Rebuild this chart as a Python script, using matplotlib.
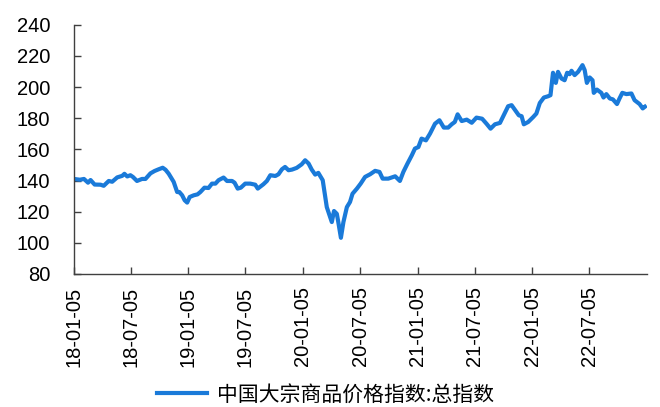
"""
China commodity price index chart
Weekly total index, 2018-2022
"""

import matplotlib
matplotlib.use('Agg')
import matplotlib.pyplot as plt
import matplotlib.dates as mdates
import pandas as pd

# Values
dates = [
    '2018-01-05', '2018-01-24', '2018-02-06', '2018-02-19', '2018-02-27', '2018-03-12',
    '2018-03-31', '2018-04-10', '2018-04-26', '2018-05-07', '2018-05-23', '2018-06-08',
    '2018-06-15', '2018-06-24', '2018-07-04', '2018-07-12', '2018-07-25', '2018-08-10',
    '2018-08-21', '2018-09-06', '2018-09-19', '2018-10-02', '2018-10-15', '2018-10-24',
    '2018-11-03', '2018-11-19', '2018-11-30', '2018-12-07', '2018-12-16', '2018-12-24',
    '2019-01-01', '2019-01-09', '2019-01-22', '2019-02-03', '2019-02-12', '2019-02-25',
    '2019-03-10', '2019-03-21', '2019-04-01', '2019-04-11', '2019-04-27', '2019-05-08',
    '2019-05-24', '2019-06-01', '2019-06-11', '2019-06-21', '2019-07-05', '2019-07-21',
    '2019-08-06', '2019-08-14', '2019-09-01', '2019-09-12', '2019-09-23', '2019-10-09',
    '2019-10-19', '2019-10-30', '2019-11-09', '2019-11-20', '2019-12-01', '2019-12-16',
    '2020-01-01', '2020-01-12', '2020-01-23', '2020-02-02', '2020-02-13', '2020-02-23',
    '2020-03-08', '2020-03-21', '2020-04-06', '2020-04-13', '2020-04-22', '2020-04-27',
    '2020-05-05', '2020-05-13', '2020-05-24', '2020-06-03', '2020-06-11', '2020-06-25',
    '2020-07-07', '2020-07-21', '2020-08-06', '2020-08-22', '2020-09-05', '2020-09-15',
    '2020-10-03', '2020-10-25', '2020-11-09', '2020-11-20', '2020-12-03', '2020-12-17',
    '2020-12-27', '2021-01-07', '2021-01-17', '2021-01-31', '2021-02-13', '2021-03-01',
    '2021-03-15', '2021-03-29', '2021-04-12', '2021-04-23', '2021-05-03', '2021-05-12',
    '2021-05-25', '2021-06-10', '2021-06-26', '2021-07-11', '2021-07-29', '2021-08-12',
    '2021-08-25', '2021-09-08', '2021-09-24', '2021-10-06', '2021-10-20', '2021-10-31',
    '2021-11-10', '2021-11-23', '2021-12-02', '2021-12-09', '2021-12-23', '2022-01-08',
    '2022-01-18', '2022-01-29', '2022-02-11', '2022-02-24', '2022-03-04', '2022-03-12',
    '2022-03-21', '2022-03-28', '2022-04-08', '2022-04-18', '2022-04-26', '2022-05-04',
    '2022-05-10', '2022-05-20', '2022-05-31', '2022-06-14', '2022-06-21', '2022-06-28',
    '2022-07-07', '2022-07-16', '2022-07-20', '2022-07-30', '2022-08-13', '2022-08-20',
    '2022-08-29', '2022-09-09', '2022-09-19', '2022-10-02', '2022-10-10', '2022-10-19',
    '2022-11-01', '2022-11-17', '2022-11-27', '2022-12-13', '2022-12-23', '2022-12-30',
]
index_values = [
    141.0, 140.5, 141.0, 138.6, 140.3, 137.4,
    137.3, 136.6, 139.7, 139.2, 142.0, 143.0,
    144.3, 142.6, 143.4, 142.3, 139.7, 141.0,
    141.0, 144.6, 146.1, 147.2, 148.2, 146.9,
    144.4, 139.1, 132.6, 132.6, 130.5, 127.3,
    125.8, 129.4, 130.5, 131.1, 132.6, 135.4,
    135.2, 138.0, 138.0, 140.2, 141.9, 139.7,
    139.7, 138.6, 134.8, 135.4, 138.0, 138.0,
    137.3, 134.8, 137.6, 139.7, 143.4, 142.9,
    144.0, 147.2, 148.7, 146.6, 147.0, 148.1,
    150.4, 153.0, 150.9, 147.0, 143.8, 144.9,
    140.2, 122.9, 113.3, 120.4, 118.6, 112.9,
    103.2, 113.3, 122.9, 126.2, 131.5, 134.8,
    138.0, 142.3, 144.0, 146.2, 145.5, 141.2,
    141.2, 142.7, 139.7, 145.5, 150.8, 156.2,
    160.5, 161.5, 166.9, 165.8, 170.1, 176.5,
    178.7, 174.0, 174.0, 176.1, 177.6, 182.5,
    178.2, 179.1, 177.1, 180.4, 179.7, 176.5,
    173.3, 176.1, 177.0, 181.9, 187.7, 188.4,
    185.6, 181.9, 181.3, 176.1, 177.6, 180.8,
    183.0, 189.8, 193.3, 194.1, 194.8, 209.2,
    202.7, 209.8, 205.5, 204.4, 209.2, 208.3,
    210.5, 207.7, 209.8, 214.1, 210.9, 202.7,
    206.2, 204.4, 196.3, 198.4, 196.3, 193.3,
    195.5, 192.7, 192.1, 189.1, 192.7, 196.3,
    195.5, 195.9, 191.6, 189.1, 186.3, 187.4,
]
series_label = '中国大宗商品价格指数:总指数'
y_ticks = [80, 100, 120, 140, 160, 180, 200, 220, 240]
x_ticks = ['2018-01-05', '2018-07-05', '2019-01-05', '2019-07-05', '2020-01-05',
           '2020-07-05', '2021-01-05', '2021-07-05', '2022-01-05', '2022-07-05']

LINE_COLOR = '#1a7ad9'
AXIS_COLOR = '#404040'
LATIN = ['Liberation Sans', 'DejaVu Sans']
CJK = ['Noto Sans CJK SC', 'DejaVu Sans']

fig = plt.figure(figsize=(6.6, 4.07), dpi=100)
ax = fig.add_axes([0.112, 0.327, 0.868, 0.612])

ax.plot(pd.to_datetime(dates), index_values, color=LINE_COLOR, linewidth=3.0,
        solid_joinstyle='round', label=series_label)

# Axes limits and ticks
ax.set_xlim(pd.Timestamp('2018-01-05'), pd.Timestamp('2023-01-05'))
ax.set_ylim(80, 240)
ax.set_yticks(y_ticks)
ax.set_xticks(pd.to_datetime(x_ticks))
ax.xaxis.set_major_formatter(mdates.DateFormatter('%y-%m-%d'))

for side in ['top', 'right']:
    ax.spines[side].set_visible(False)
for side in ['left', 'bottom']:
    ax.spines[side].set_color(AXIS_COLOR)
    ax.spines[side].set_linewidth(1.0)

ax.tick_params(axis='y', direction='in', length=5, width=1, color=AXIS_COLOR, pad=17)
ax.tick_params(axis='x', direction='in', length=5, width=1, color=AXIS_COLOR, pad=9)
for lbl in ax.get_yticklabels():
    lbl.set_family(LATIN)
    lbl.set_fontsize(14.5)
for lbl in ax.get_xticklabels():
    lbl.set_family(LATIN)
    lbl.set_fontsize(14.5)
    lbl.set_rotation(90)

# Legend below the plot
fig.legend(loc='center', bbox_to_anchor=(0.493, 0.03), frameon=False,
           prop={'family': CJK, 'size': 15}, handlelength=2.4, handletextpad=0.45)

fig.savefig('out.png', dpi=100)
plt.close(fig)
